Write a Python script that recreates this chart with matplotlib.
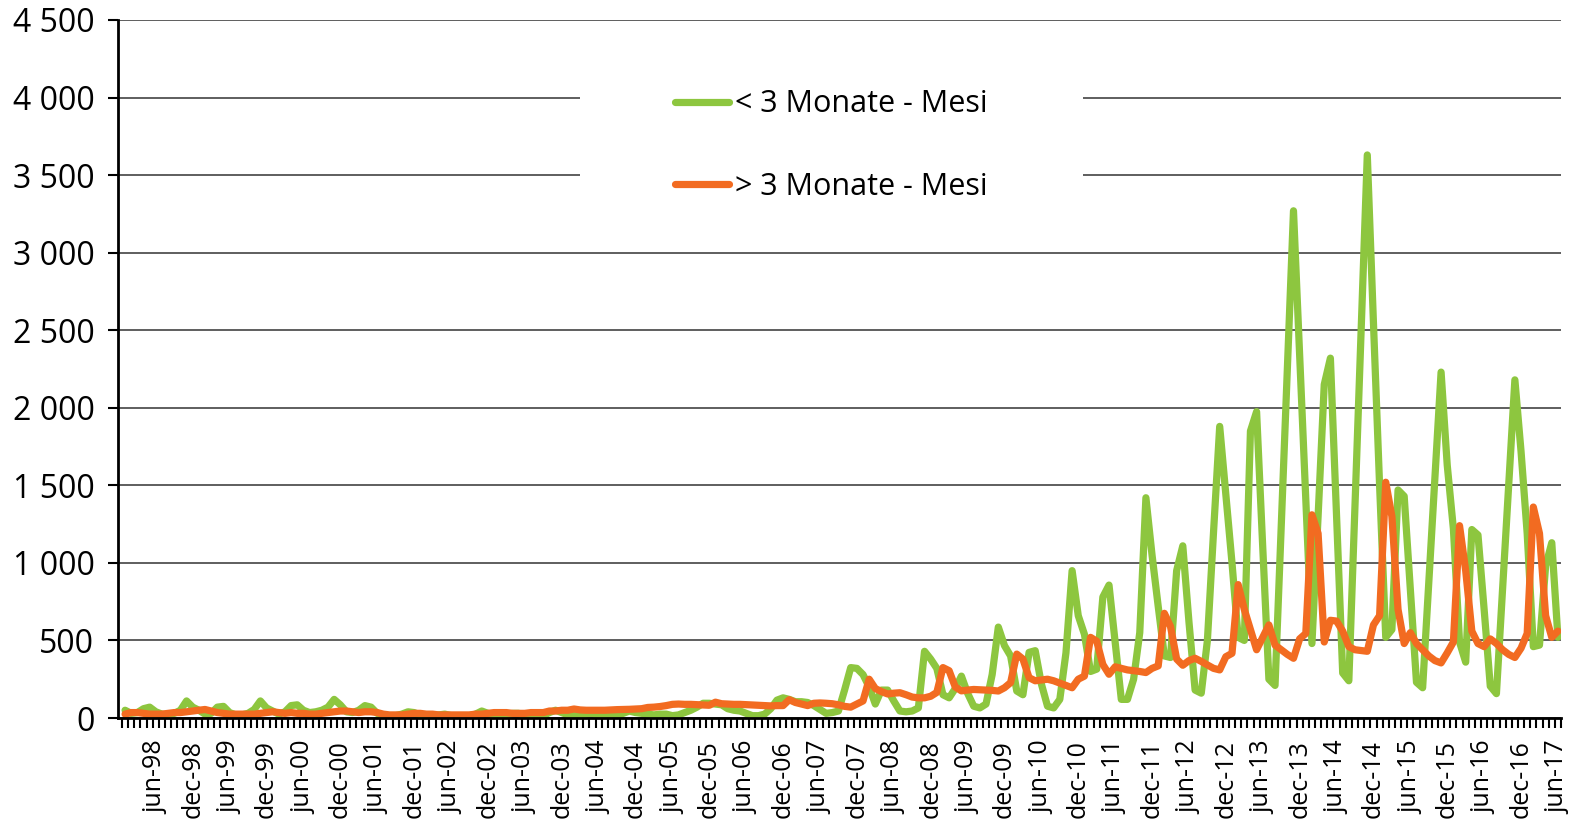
import numpy as np
import matplotlib
matplotlib.use('Agg')
import matplotlib.pyplot as plt
from matplotlib.ticker import FuncFormatter
from matplotlib.patches import Rectangle

plt.rcParams['font.family'] = ['Open Sans', 'DejaVu Sans']

# ---- data (monthly, jan-98 .. jun-17) ----
years = list(range(1998, 2018))
month_labels = [f"{m}-{y % 100:02d}" for y in years for m in ("jun", "dec")][:-1]

series_names = ["< 3 Monate - Mesi", "> 3 Monate - Mesi"]

lt3 = [
    50, 30, 35, 60, 70, 40, 25, 20, 30, 50, 110, 70,          # 1998
    50, 25, 30, 70, 75, 35, 20, 20, 30, 55, 110, 65,          # 1999
    45, 25, 40, 80, 85, 50, 35, 40, 50, 70, 120, 85,          # 2000
    40, 35, 50, 80, 70, 30, 15, 10, 15, 25, 40, 35,           # 2001
    20, 15, 15, 20, 25, 15, 10, 10, 15, 25, 45, 30,           # 2002
    20, 15, 20, 30, 30, 15, 10, 10, 15, 35, 50, 35,           # 2003
    20, 15, 15, 25, 30, 15, 10, 10, 20, 30, 45, 35,           # 2004
    30, 25, 20, 25, 25, 15, 20, 35, 50, 70, 95, 95,           # 2005
    90, 85, 60, 50, 45, 30, 15, 15, 25, 60, 115, 130,         # 2006
    120, 105, 105, 100, 80, 55, 30, 35, 45, 180, 325, 320,    # 2007
    280, 200, 90, 180, 180, 110, 45, 40, 45, 65, 430, 380,    # 2008
    320, 150, 130, 190, 270, 160, 76, 65, 90, 280, 586, 467,  # 2009
    400, 174, 150, 423, 434, 220, 76, 65, 120, 420, 950, 660, # 2010
    540, 300, 315, 780, 857, 490, 120, 120, 250, 550, 1420, 1050,     # 2011
    720, 400, 390, 950, 1110, 620, 180, 160, 500, 1200, 1880, 1440,   # 2012
    1000, 520, 500, 1850, 1975, 1100, 250, 210, 1230, 2250, 3270, 2340,  # 2013
    1410, 480, 1300, 2150, 2320, 1300, 290, 240, 1370, 2500, 3630, 2550, # 2014
    1500, 520, 570, 1470, 1430, 830, 230, 195, 870, 1550, 2230, 1630,    # 2015
    1220, 490, 360, 1215, 1180, 700, 205, 157, 830, 1500, 2180, 1720,    # 2016
    1190, 460, 470, 980, 1130, 520,                                      # 2017
]

gt3 = [
    25, 35, 35, 30, 25, 25, 25, 30, 35, 35, 40, 45,           # 1998
    50, 55, 45, 35, 30, 25, 25, 25, 25, 25, 30, 35,           # 1999
    40, 35, 30, 35, 30, 30, 25, 25, 30, 35, 40, 45,           # 2000
    45, 40, 35, 40, 40, 35, 25, 20, 20, 20, 25, 30,           # 2001
    30, 25, 25, 20, 20, 20, 20, 20, 20, 25, 25, 30,           # 2002
    35, 35, 35, 30, 30, 30, 35, 35, 35, 45, 45, 50,           # 2003
    50, 58, 52, 50, 50, 50, 50, 52, 54, 55, 56, 58,           # 2004
    60, 68, 70, 74, 80, 88, 90, 88, 88, 86, 84, 82,           # 2005
    102, 92, 90, 88, 88, 86, 84, 82, 80, 78, 80, 80,          # 2006
    118, 100, 90, 80, 95, 97, 95, 92, 85, 75, 70, 90,         # 2007
    110, 250, 190, 170, 155, 160, 163, 150, 135, 130, 130, 140,   # 2008
    165, 325, 305, 200, 175, 180, 184, 182, 180, 178, 174, 195,   # 2009
    228, 412, 380, 260, 240, 245, 250, 240, 225, 210, 195, 250,   # 2010
    270, 520, 495, 345, 282, 330, 320, 310, 305, 300, 293, 320,   # 2011
    336, 675, 590, 380, 340, 370, 385, 365, 342, 320, 310, 395,   # 2012
    417, 860, 700, 570, 440, 520, 600, 470, 440, 410, 385, 510,   # 2013
    545, 1310, 1190, 490, 630, 625, 560, 460, 440, 435, 430, 600, # 2014
    660, 1520, 1300, 700, 480, 550, 480, 440, 400, 370, 355, 420, # 2015
    490, 1240, 950, 560, 480, 460, 510, 480, 440, 410, 390, 450,  # 2016
    545, 1360, 1190, 660, 520, 560,                               # 2017
]

colors = ["#8dc63f", "#f26b21"]

# ---- figure ----
W, H = 1569, 821
fig = plt.figure(figsize=(W / 100, H / 100), dpi=100)
ax = fig.add_axes([118 / W, 1 - 718 / H, 1443 / W, 698 / H])

n = len(lt3)
x = np.arange(n)
for vals, c, name, z in [(lt3, colors[0], series_names[0], 3), (gt3, colors[1], series_names[1], 4)]:
    ax.plot(x, vals, color=c, lw=5.2, solid_joinstyle='round', solid_capstyle='round',
            zorder=z, label=name)

shift = 0.65
ax.set_xlim(-0.5 - shift, n - 0.5 - shift)
ax.set_ylim(0, 4500)
ax.set_yticks(np.arange(0, 4501, 500))
ax.yaxis.set_major_formatter(FuncFormatter(lambda v, p: f"{int(v):,}".replace(",", " ")))
ax.grid(axis='y', color='#333333', lw=1.1)
ax.set_axisbelow(True)

for s in ('top', 'right'):
    ax.spines[s].set_visible(False)
for s in ('left', 'bottom'):
    ax.spines[s].set_linewidth(2.0)
    ax.spines[s].set_color('black')
    ax.spines[s].set_zorder(5)

ax.tick_params(axis='y', length=7, width=1.5, pad=10, labelsize=23, color='black')

label_idx = [i for i in range(n) if i % 12 in (5, 11)]
ax.set_xticks(label_idx)
ax.set_xticklabels(month_labels, rotation=90, fontsize=18, va='top', ha='center')
ax.tick_params(axis='x', which='major', length=0, pad=16)
ax.set_xticks(np.arange(-0.5, n), minor=True)
ax.tick_params(axis='x', which='minor', length=7, width=1.5, color='black')

# white block behind legend (interrupts gridlines)
ax.add_patch(Rectangle((0.32, 0.74), 0.349, 0.19, transform=ax.transAxes,
                       facecolor='white', edgecolor='none', zorder=2))

ax.legend(loc='center', bbox_to_anchor=(0.4945, 0.82), frameon=False, fontsize=22,
          handlelength=1.75, handletextpad=0.2, labelspacing=1.72, borderpad=0)

fig.savefig('out.png', dpi=100)
